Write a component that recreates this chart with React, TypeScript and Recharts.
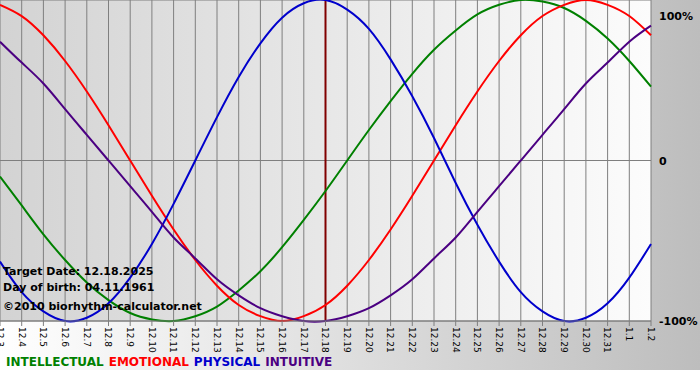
import { LineChart, Line, XAxis, YAxis, CartesianGrid, ReferenceLine } from 'recharts';

const DAY_LABELS = [
    '12.3', '12.4', '12.5', '12.6', '12.7', '12.8', '12.9', '12.10', '12.11', '12.12', '12.13',
    '12.14', '12.15', '12.16', '12.17', '12.18', '12.19', '12.20', '12.21', '12.22', '12.23',
    '12.24', '12.25', '12.26', '12.27', '12.28', '12.29', '12.30', '12.31', '1.1', '1.2',
];

const PHYSICAL = [
    -63, -82, -94, -100, -98, -89, -73, -52, -27, 0, 27, 52, 73, 89, 98, 100,
    94, 82, 63, 40, 14, -14, -40, -63, -82, -94, -100, -98, -89, -73, -52,
];
const EMOTIONAL = [
    97, 90, 78, 62, 43, 22, 0, -22, -43, -62, -78, -90, -97, -100, -97, -90,
    -78, -62, -43, -22, 0, 22, 43, 62, 78, 90, 97, 100, 97, 90, 78,
];
const INTELLECTUAL = [
    -10, -28, -46, -62, -76, -87, -95, -99, -100, -97, -91, -81, -69, -54, -37, -19,
    0, 19, 37, 54, 69, 81, 91, 97, 100, 99, 95, 87, 76, 62, 46,
];
const INTUITIVE = [
    74, 61, 48, 32, 16, 0, -16, -32, -48, -61, -74, -84, -92, -97, -100, -100,
    -97, -92, -84, -74, -61, -48, -32, -16, 0, 16, 32, 48, 61, 74, 84,
];

const Y_TICKS = [-100, 0, 100];
const Y_LABELS: Record<number, string> = { '-100': '-100%', 0: '0', 100: '100%' };
const TARGET_DAY = '12.18';

const chartData = DAY_LABELS.map((day, i) => ({
    day,
    physical: PHYSICAL[i],
    emotional: EMOTIONAL[i],
    intellectual: INTELLECTUAL[i],
    intuitive: INTUITIVE[i],
}));

const FONT = '"DejaVu Sans", Verdana, sans-serif';

function DayTick({ x, y, payload }: any) {
    return (
        <g transform={`translate(${x},${y})`}>
            <text transform="rotate(90)" x={1} y={0} dy="0.35em" fontSize={9} fontFamily={FONT} fill="#000" textAnchor="start">
                {payload.value}
            </text>
        </g>
    );
}

function PercentTick({ x, y, payload }: any) {
    const shift = payload.value === 100 ? 7 : payload.value === 0 ? 1 : 0;
    return (
        <text x={x + 8} y={y + shift} dy="0.35em" fontSize={11} fontWeight="bold" fontFamily={FONT} fill="#000">
            {Y_LABELS[payload.value]}
        </text>
    );
}

export default function App() {
    return (
        <div style={{ position: 'absolute', left: 0, top: 0, width: 700, height: 380, background: '#fff' }}>
            <div style={{ position: 'absolute', left: 0, top: 0, width: 700, height: 370, background: 'linear-gradient(to right, #ffffff, #bdbdbd)' }} />
            <div style={{ position: 'absolute', left: 0, top: 0 }}>
                <LineChart width={700} height={380} data={chartData} margin={{ top: 0, right: 0, bottom: 0, left: 0 }}>
                    <defs>
                        <linearGradient id="plotBg" x1="0" y1="0" x2="1" y2="0">
                            <stop offset="0%" stopColor="#d3d3d3" />
                            <stop offset="100%" stopColor="#fcfcfc" />
                        </linearGradient>
                    </defs>
                    <CartesianGrid fill="url(#plotBg)" stroke="#7f7f7f" strokeWidth={1} />
                    <XAxis
                        dataKey="day"
                        type="category"
                        interval={0}
                        height={59}
                        tickSize={5}
                        tickMargin={0}
                        stroke="#7f7f7f"
                        tick={<DayTick />}
                    />
                    <YAxis
                        orientation="right"
                        domain={[-100, 100]}
                        ticks={Y_TICKS}
                        width={49}
                        axisLine={false}
                        tickLine={false}
                        tickSize={0}
                        tickMargin={0}
                        tick={<PercentTick />}
                    />
                    <ReferenceLine x={TARGET_DAY} stroke="#800000" strokeWidth={2} />
                    <Line type="natural" dataKey="intellectual" stroke="#008000" strokeWidth={2} dot={false} activeDot={false} isAnimationActive={false} />
                    <Line type="natural" dataKey="emotional" stroke="#ff0000" strokeWidth={2} dot={false} activeDot={false} isAnimationActive={false} />
                    <Line type="natural" dataKey="physical" stroke="#0000cc" strokeWidth={2} dot={false} activeDot={false} isAnimationActive={false} />
                    <Line type="natural" dataKey="intuitive" stroke="#4b0082" strokeWidth={2} dot={false} activeDot={false} isAnimationActive={false} />
                </LineChart>
            </div>
            <svg width={700} height={380} style={{ position: 'absolute', left: 0, top: 0, pointerEvents: 'none' }}>
                <g fontFamily={FONT} fontWeight="bold" fontSize={11} fill="#000">
                    <text x={3} y={275}>Target Date: 12.18.2025</text>
                    <text x={3} y={291}>Day of birth: 04.11.1961</text>
                    <text x={3} y={310}>©2010 biorhythm-calculator.net</text>
                </g>
                <text x={6} y={366} fontFamily={FONT} fontWeight="bold" fontSize={12}>
                    <tspan fill="#008000">INTELLECTUAL</tspan>
                    <tspan fill="#ff0000" dx={5}>EMOTIONAL</tspan>
                    <tspan fill="#0000cc" dx={5}>PHYSICAL</tspan>
                    <tspan fill="#4b0082" dx={5}>INTUITIVE</tspan>
                </text>
            </svg>
        </div>
    );
}
